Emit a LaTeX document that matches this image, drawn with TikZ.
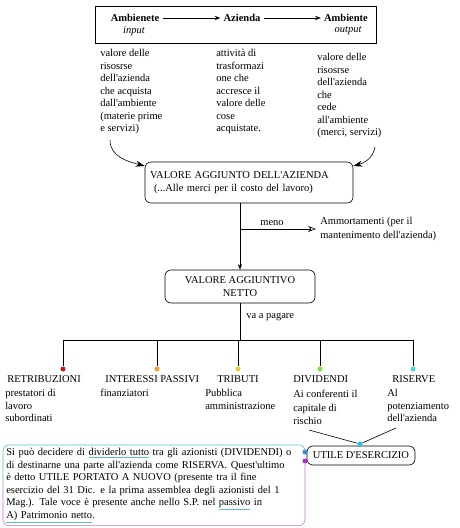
\documentclass[tikz,border=0pt]{standalone}
\usepackage{fontspec}
\setmainfont{Liberation Serif}
\usetikzlibrary{arrows.meta}
\definecolor{rosso}{RGB}{200,20,20}
\definecolor{arancio}{RGB}{240,160,50}
\definecolor{giallo}{RGB}{235,205,50}
\definecolor{verde}{RGB}{130,220,60}
\definecolor{turchese}{RGB}{60,225,200}
\definecolor{azzurro}{RGB}{40,190,220}
\definecolor{blu}{RGB}{50,140,220}
\definecolor{viola}{RGB}{180,40,210}
\definecolor{bordoa}{RGB}{90,190,205}
\definecolor{bordov}{RGB}{190,120,205}
\newcommand{\testo}{\fontsize{10.5}{12.5}\selectfont}
\newcommand{\ap}{\textquotesingle}
\newcommand{\sott}[1]{\textcolor{bordoa}{\underline{\textcolor{black}{#1}}}}
\tikzset{t/.style = {inner sep=0pt, align=left, anchor=north west, font=\testo},
    g/.style = {inner sep=0pt, font=\testo\bfseries},
    i/.style = {inner sep=0pt, font=\testo\itshape},
    r/.style = {draw, rounded corners=6pt, inner sep=0pt, font=\testo},
    p/.style = {circle, minimum size=5pt, inner sep=0pt}}

\begin{document}
\begin{tikzpicture}[x=1pt, y=-1pt, >=Stealth, line width=0.6pt]
        \useasboundingbox (0,0) rectangle (459,528);

        % ambiente - azienda - ambiente
        \node[draw, minimum width=281pt, minimum height=37pt, inner sep=0pt] (cornice) at (235.5,24.5) {};
        \node[g] (amb1) at (135,18) {Ambienete};
        \node[i] (inp) at (134,31) {input};
        \node[g] (az) at (242,18) {Azienda};
        \node[g] (amb2) at (346,18) {Ambiente};
        \node[i] (outp) at (348,31) {output};
        \draw[->, shorten <=3pt, shorten >=3pt] (amb1) -- (az);
        \draw[->, shorten <=3pt, shorten >=3pt] (az) -- (amb2);

        \node[t] (col1) at (100,49) {valore delle\\risosrse\\dell\ap azienda\\che acquista\\dall\ap ambiente\\(materie prime\\e servizi)};
        \node[t] (col2) at (216,49) {attività di\\trasformazi\\one che\\accresce il\\valore delle\\cose\\acquistate.};
        \node[t] (col3) at (317,53) {valore delle\\risosrse\\dell\ap azienda\\che\\cede\\all\ap ambiente\\(merci, servizi)};

        % valore aggiunto
        \node[r, minimum width=208pt, minimum height=41pt, text width=198pt, align=left] (va) at (249,182.5)
            {VALORE AGGIUNTO DELL\ap AZIENDA\\\hspace*{4pt}(...Alle merci per il costo del lavoro)};
        \coordinate (s1) at (110,140);
        \coordinate (s2) at (375,147);
        \draw[-{Stealth[length=9pt, width=6pt]}] (s1) to[out=-90, in=165] (va.171);
        \draw[-{Stealth[length=9pt, width=6pt]}] (s2) to[out=-100, in=15] (va.9);

        \node[r, minimum width=150pt, minimum height=33pt, align=center] (van) at (240,286.5) {VALORE AGGIUNTIVO\\NETTO};
        \draw[->] (va.south -| van.north) -- (van.north);

        \coordinate (m) at (240,229);
        \node[t, anchor=west] (amm) at (320,229) {Ammortamenti (per il\\[1.5pt]mantenimento dell\ap azienda)};
        \node[t, anchor=south] (meno) at (272,226) {meno};
        \draw[-{Stealth[open, length=8pt, width=6pt]}, shorten >=4pt] (m) -- (amm.west);

        % destinazione
        \coordinate (bus) at (240,340);
        \draw (van.south) -- (bus);
        \node[t, anchor=west] (pag) at (246,317) {va a pagare};
        \foreach \n/\x/\c in {ret/63/rosso, int/157/arancio, tri/238/giallo, div/320/verde, ris/413/turchese}{
            \node[p, fill=\c] (d\n) at (\x,369) {};
            \draw (d\n |- bus) -- (d\n);
        }
        \draw (dret |- bus) -- (dris |- bus);

        \node[t, anchor=west] (tret) at (7,379) {RETRIBUZIONI};
        \node[t, anchor=west] (tint) at (105,379) {INTERESSI PASSIVI};
        \node[t, anchor=west] (ttri) at (217,379) {TRIBUTI};
        \node[t, anchor=west] (tdiv) at (293,379) {DIVIDENDI};
        \node[t, anchor=west] (tris) at (392,379) {RISERVE};
        \node[t] (sret) at (5,389) {prestatori di\\lavoro\\subordinati};
        \node[t] (sint) at (100,389) {finanziatori};
        \node[t] (stri) at (205,389) {Pubblica\\amministrazione};
        \node[t] (sdiv) at (293,390) {Ai conferenti il\\[1pt]capitale di\\[1pt]rischio};
        \node[t] (sris) at (387,389) {Al\\potenziamento\\dell\ap azienda};

        % utile
        \node[r, minimum width=108pt, minimum height=19pt] (utile) at (361,455.5) {UTILE D\ap ESERCIZIO};
        \node[p, fill=azzurro] (du) at (360,444) {};
        \coordinate (e1) at (309,430);
        \coordinate (e2) at (396,428);
        \draw (e1) -- (du);
        \draw (e2) -- (du);

        \node[t, minimum width=302pt, minimum height=80pt, inner sep=3pt, text width=296pt] (nota) at (3,445)
            {Si può decidere di \sott{dividerlo tutto} tra gli azionisti (DIVIDENDI) o\\
             di destinarne una parte all\ap azienda come RISERVA. Quest\ap ultimo\\
             è detto UTILE PORTATO A NUOVO (presente tra il fine\\
             esercizio del 31 Dic. e la prima assemblea degli azionisti del 1\\
             Mag.). Tale voce è presente anche nello S.P. nel \sott{passivo} in\\
             \sott{A) Patrimonio netto}.};
        \node[p, fill=blu] (db) at (305,452) {};
        \node[p, fill=viola] (dp) at (305,461) {};
        \draw[bordoa, rounded corners=6pt] (db) |- (nota.north west) -- (nota.west);
        \draw[bordov, rounded corners=6pt] (dp) |- (nota.south west) -- (nota.west);
    \end{tikzpicture}
\end{document}
